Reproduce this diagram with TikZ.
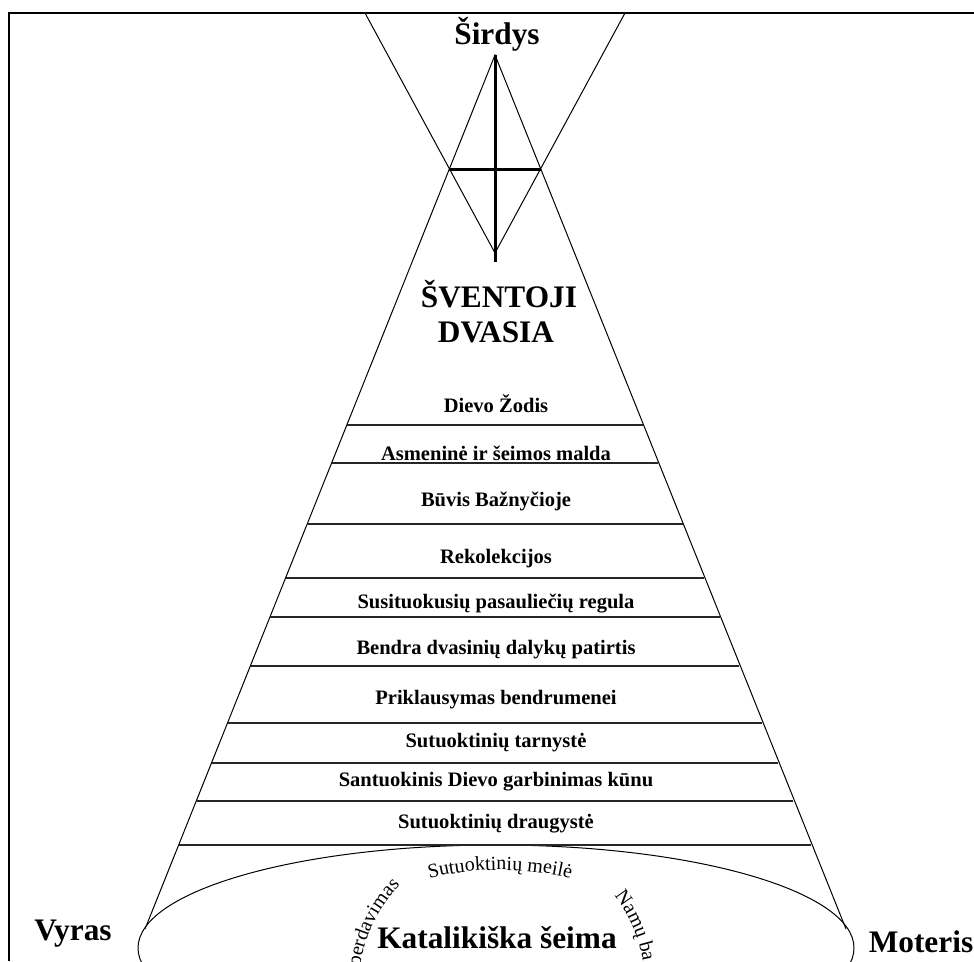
\documentclass[tikz,border=0pt]{standalone}
\usepackage{fontspec}
\setmainfont{Liberation Serif}
\usetikzlibrary{decorations.text}

\newcommand{\rowfont}{\bfseries\fontsize{15.4}{18}\selectfont}
\newcommand{\bigfont}{\bfseries\fontsize{23.5}{26.25}\selectfont}
\newcommand{\arcfont}{\fontsize{15}{18}\selectfont}

\begin{document}
\begin{tikzpicture}[x=0.75pt,y=0.75pt,
				thin line/.style = {line width=0.75pt},
				sep line/.style = {line width=1.1pt, black!85},
				cross line/.style = {line width=2.25pt},
				row label/.style = {font=\rowfont, anchor=base, inner sep=0pt},
				big label/.style = {font=\bigfont, anchor=base, inner sep=0pt}]
				
				\useasboundingbox (0,0) rectangle (974,961);
				\draw[line width=1.5pt] (9,0) -- (9,948) -- (974,948);
				
				\coordinate (apex) at (495,906);
				\coordinate (low) at (495,708);
				\coordinate (cl) at (449,791);
				\coordinate (cr) at (541,791);
				\coordinate (vl) at (145,32);
				\coordinate (vr) at (846,32);
				
				\draw[thin line] (365,948) -- (low) -- (625,948);
				\draw[thin line] (vl) -- (apex) -- (vr);
				\draw[cross line] (apex) -- (495,699);
				\draw[cross line] (cl) -- (cr);
				\draw[thin line] (496,13) ellipse [x radius=358, y radius=103];
				
				\foreach \y in {536,498,437,383,344,295,238,198,160,116}
				\draw[sep line] (132.6+0.4*\y,\y) -- (857.4-0.4*\y,\y);
				
				\node[big label] (sirdys) at (497,916) {Širdys};
				\node[big label] (sventoji) at (499,653) {ŠVENTOJI};
				\node[big label] (dvasia) at (496,618) {DVASIA};
				
				\foreach \y/\txt [count=\i] in {548/Dievo Žodis, 500/Asmeninė ir šeimos malda, 454/Būvis Bažnyčioje, 397/Rekolekcijos, 353/Susituokusių pasauliečių regula, 307/Bendra dvasinių dalykų patirtis, 257/Priklausymas bendrumenei, 214/Sutuoktinių tarnystė, 175/Santuokinis Dievo garbinimas kūnu, 133/Sutuoktinių draugystė}
				\node[row label] (row\i) at (496,\y) {\txt};
				
				\node[big label] (vyras) at (73,21) {Vyras};
				\node[big label] (moteris) at (921,9) {Moteris};
				\node[big label] (seima) at (497,13) {Katalikiška šeima};
				
				\path[decorate, decoration={text along path, text align=center, text={|\arcfont|Sutuoktinių meilė}}]
				([shift={(500,-209)}]120:300) arc[start angle=120, end angle=60, radius=300];
				\path[decorate, decoration={text along path, text align=right, text={|\arcfont|perdavimas}}]
				([shift={(500,-24)}]190:141) arc[start angle=190, end angle=135, radius=141];
				\path[decorate, decoration={text along path, text align=left, text={|\arcfont|Namų ba}}]
				([shift={(500,-24)}]38:145) arc[start angle=38, end angle=-15, radius=145];
				
				\end{tikzpicture}
\end{document}
